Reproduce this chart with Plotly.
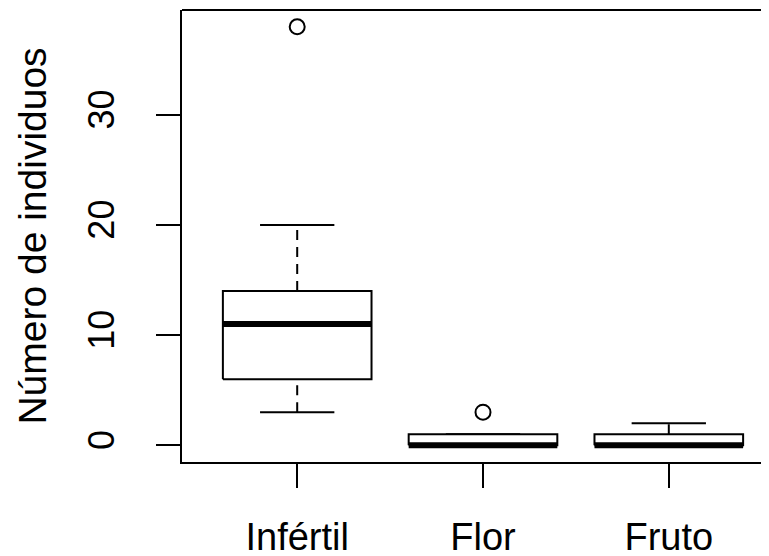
import plotly.graph_objects as go

categories = ["Infértil", "Flor", "Fruto"]
lower_whisker = [3, 0, 0]
q1 = [6, 0, 0]
median = [11, 0, 0]
q3 = [14, 1, 1]
upper_whisker = [20, 1, 2]
outliers = [[38], [3], []]
y_ticks = [0, 10, 20, 30]

BOX_HALF = 0.4
CAP_HALF = 0.2
FONT = "Liberation Sans, Arial, sans-serif"

fig = go.Figure()
pos = list(range(1, len(categories) + 1))

# whiskers (dashed)
wx, wy = [], []
for p, lo, a, b, hi in zip(pos, lower_whisker, q1, q3, upper_whisker):
    if hi > b:
        wx += [p, p, None]; wy += [b, hi, None]
    if lo < a:
        wx += [p, p, None]; wy += [lo, a, None]
fig.add_trace(go.Scatter(x=wx, y=wy, mode="lines",
                         line=dict(color="black", width=2, dash="10px,7px"),
                         hoverinfo="skip", showlegend=False))
# staples
sx, sy = [], []
for p, lo, hi in zip(pos, lower_whisker, upper_whisker):
    sx += [p - CAP_HALF, p + CAP_HALF, None, p - CAP_HALF, p + CAP_HALF, None]
    sy += [hi, hi, None, lo, lo, None]
fig.add_trace(go.Scatter(x=sx, y=sy, mode="lines", line=dict(color="black", width=2),
                         hoverinfo="skip", showlegend=False))
# boxes
bx, by = [], []
for p, a, b in zip(pos, q1, q3):
    bx += [p - BOX_HALF, p + BOX_HALF, p + BOX_HALF, p - BOX_HALF, p - BOX_HALF, None]
    by += [a, a, b, b, a, None]
fig.add_trace(go.Scatter(x=bx, y=by, mode="lines", line=dict(color="black", width=2),
                         fill="toself", fillcolor="white",
                         hoverinfo="skip", showlegend=False))
# medians
mx, my = [], []
for p, m in zip(pos, median):
    mx += [p - BOX_HALF, p + BOX_HALF, None]
    my += [m, m, None]
fig.add_trace(go.Scatter(x=mx, y=my, mode="lines", line=dict(color="black", width=6),
                         hoverinfo="skip", showlegend=False))
# outliers
ox, oy = [], []
for p, outs in zip(pos, outliers):
    for v in outs:
        ox.append(p); oy.append(v)
fig.add_trace(go.Scatter(x=ox, y=oy, mode="markers",
                         marker=dict(symbol="circle-open", size=15, color="black",
                                     line=dict(width=2, color="black")),
                         showlegend=False))

# page body has an 8px margin; figure sized/offset to compensate
W, H = 761, 548
L, T, B = 174, 2, 94
fig.update_layout(
    width=W, height=H,
    margin=dict(l=L, r=0, t=T, b=B, autoexpand=False),
    plot_bgcolor="white", paper_bgcolor="white",
    font=dict(family=FONT, color="black", size=38),
    xaxis=dict(range=[0.38, 0.38 + (W - L) / 185.8], tickmode="array",
               tickvals=pos, ticktext=categories, showgrid=False, zeroline=False,
               showline=True, linecolor="black", linewidth=2, automargin=False,
               ticks="outside", ticklen=24, tickwidth=2, tickcolor="black",
               ticklabelstandoff=16, tickfont=dict(size=38)),
    yaxis=dict(range=[-1.52, 39.52], tickmode="array", tickvals=y_ticks,
               showgrid=False, zeroline=False, automargin=False,
               showline=True, linecolor="black", linewidth=2,
               ticks="outside", ticklen=24, tickwidth=2, tickcolor="black",
               tickangle=-90, ticklabelstandoff=28, tickfont=dict(size=36),
               title=dict(text="Número de individuos", font=dict(size=39), standoff=22)),
    shapes=[dict(type="line", xref="paper", yref="paper", x0=0, x1=1, y0=1, y1=1,
                 line=dict(color="black", width=2))],
)
fig.write_html("out.html")
